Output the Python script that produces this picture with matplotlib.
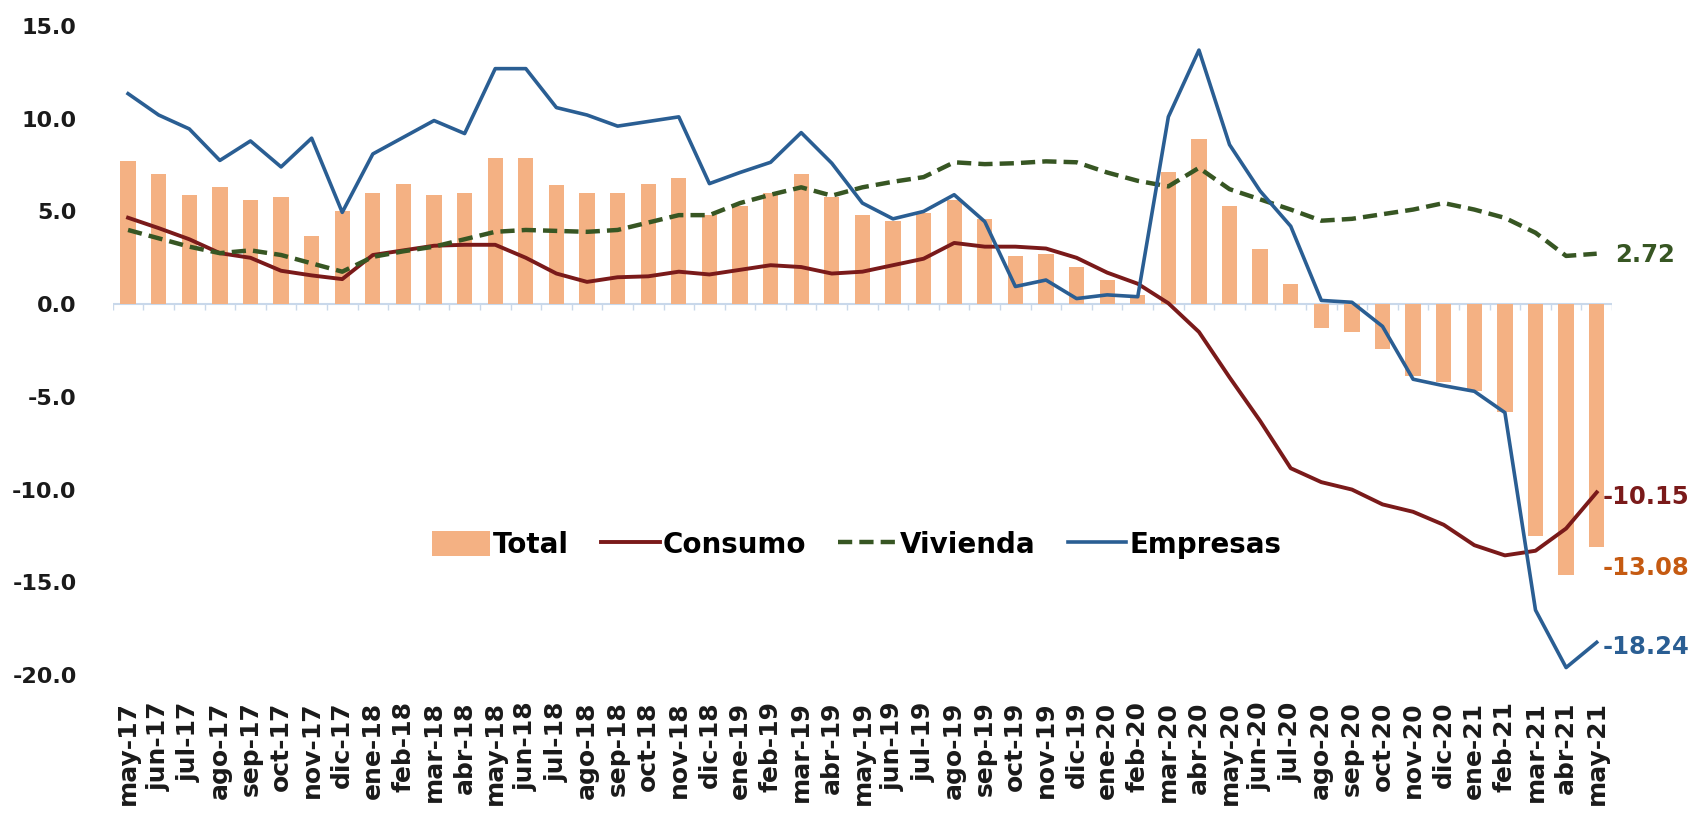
import matplotlib
matplotlib.use("Agg")
import matplotlib.pyplot as plt
import numpy as np

plt.rcParams['font.family'] = ['DejaVu Sans']
plt.rcParams['font.weight'] = 'bold'

# categories (may-17 .. may-21)
months = ['may-17', 'jun-17', 'jul-17', 'ago-17', 'sep-17', 'oct-17', 'nov-17', 'dic-17',
          'ene-18', 'feb-18', 'mar-18', 'abr-18', 'may-18', 'jun-18', 'jul-18', 'ago-18',
          'sep-18', 'oct-18', 'nov-18', 'dic-18', 'ene-19', 'feb-19', 'mar-19', 'abr-19',
          'may-19', 'jun-19', 'jul-19', 'ago-19', 'sep-19', 'oct-19', 'nov-19', 'dic-19',
          'ene-20', 'feb-20', 'mar-20', 'abr-20', 'may-20', 'jun-20', 'jul-20', 'ago-20',
          'sep-20', 'oct-20', 'nov-20', 'dic-20', 'ene-21', 'feb-21', 'mar-21', 'abr-21',
          'may-21']

total = [7.7, 7.0, 5.9, 6.3, 5.6, 5.8, 3.7, 5.0,
         6.0, 6.5, 5.9, 6.0, 7.9, 7.9, 6.4, 6.0,
         6.0, 6.5, 6.8, 4.8, 5.3, 6.0, 7.0, 5.8,
         4.8, 4.5, 4.9, 5.6, 4.6, 2.6, 2.7, 2.0,
         1.3, 0.5, 7.1, 8.9, 5.3, 3.0, 1.1, -1.3,
         -1.5, -2.4, -3.9, -4.2, -4.7, -5.8, -12.5, -14.6,
         -13.08]

consumo = [4.66, 4.1, 3.5, 2.75, 2.5, 1.8, 1.55, 1.35,
           2.65, 2.9, 3.15, 3.2, 3.2, 2.5, 1.65, 1.2,
           1.45, 1.5, 1.75, 1.6, 1.85, 2.1, 2.0, 1.65,
           1.75, 2.1, 2.45, 3.3, 3.1, 3.1, 3.0, 2.5,
           1.7, 1.1, 0.05, -1.5, -3.95, -6.3, -8.85, -9.6,
           -10.0, -10.8, -11.2, -11.9, -13.0, -13.55, -13.3, -12.1,
           -10.15]

vivienda = [4.0, 3.55, 3.1, 2.75, 2.9, 2.65, 2.2, 1.75,
            2.55, 2.85, 3.1, 3.5, 3.9, 4.0, 3.95, 3.9,
            4.0, 4.4, 4.8, 4.8, 5.45, 5.9, 6.3, 5.85,
            6.3, 6.6, 6.85, 7.65, 7.55, 7.6, 7.7, 7.65,
            7.1, 6.65, 6.35, 7.35, 6.2, 5.65, 5.1, 4.5,
            4.6, 4.85, 5.1, 5.45, 5.1, 4.65, 3.85, 2.6,
            2.72]

empresas = [11.35, 10.2, 9.45, 7.75, 8.8, 7.4, 8.95, 4.95,
            8.1, 9.0, 9.9, 9.2, 12.7, 12.7, 10.6, 10.2,
            9.6, 9.85, 10.1, 6.5, 7.1, 7.65, 9.25, 7.6,
            5.45, 4.6, 5.0, 5.9, 4.45, 0.95, 1.3, 0.3,
            0.5, 0.4, 10.1, 13.7, 8.6, 6.1, 4.2, 0.2,
            0.1, -1.2, -4.05, -4.4, -4.7, -5.85, -16.5, -19.6,
            -18.24]

yticks = [-20, -15, -10, -5, 0, 5, 10, 15]

c_total = '#F4B183'
c_consumo = '#7A1A1A'
c_vivienda = '#375623'
c_empresas = '#2A5E93'

x = np.arange(len(months))

fig = plt.figure(figsize=(17.06, 8.36), dpi=100)
ax = fig.add_axes([0.0661, 0.1926, 0.8788, 0.7763])

bars = ax.bar(x, total, width=0.5, color=c_total, label='Total', zorder=2)
ax.axhline(0, color='#C9D8EA', lw=1.5, zorder=1)
ax.vlines(np.arange(-0.5, len(months)), -0.3, 0, color='#C9D8EA', lw=1, zorder=1)
l_con, = ax.plot(x, consumo, color=c_consumo, lw=2.8, label='Consumo', zorder=3)
l_viv, = ax.plot(x, vivienda, color=c_vivienda, lw=3.2, dashes=(3.2, 1.6), label='Vivienda', zorder=3)
l_emp, = ax.plot(x, empresas, color=c_empresas, lw=2.6, label='Empresas', zorder=4)

# end labels
ax.text(48.6, 2.64, '2.72', color=c_vivienda, fontsize=17.5, va='center', ha='left')
ax.text(48.2, -10.4, '-10.15', color=c_consumo, fontsize=17.5, va='center', ha='left')
ax.text(48.2, -14.25, '-13.08', color='#C55A11', fontsize=17.5, va='center', ha='left')
ax.text(48.2, -18.5, '-18.24', color=c_empresas, fontsize=17.5, va='center', ha='left')

ax.set_xlim(-0.5, len(months) - 0.5)
ax.set_ylim(-20, 15)
ax.set_yticks(yticks)
ax.set_yticklabels([f'{v:.1f}' for v in yticks], fontsize=16, color='#1a1a1a')
ax.set_xticks(x)
ax.set_xticklabels(months, rotation=90, fontsize=18, color='#1a1a1a')
ax.tick_params(axis='both', length=0)
ax.tick_params(axis='y', pad=26)
ax.tick_params(axis='x', pad=19)
for s in ax.spines.values():
    s.set_visible(False)

ax.legend([bars, l_con, l_viv, l_emp], ['Total', 'Consumo', 'Vivienda', 'Empresas'],
          loc='center', bbox_to_anchor=(0.496, 0.2), ncol=4, frameon=False,
          fontsize=20, handlelength=2.1, handleheight=1.0, handletextpad=0.12,
          columnspacing=1.15)

fig.savefig('out.png', dpi=100)
